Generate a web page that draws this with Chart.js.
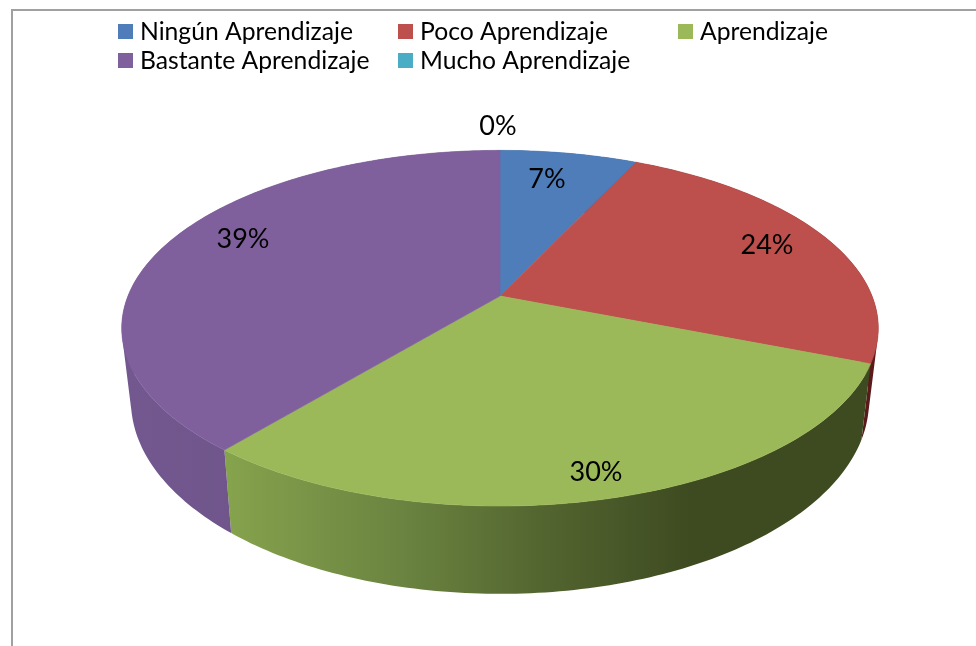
<!DOCTYPE html>
<html>
<head>
<meta charset="utf-8">
<style>
  html, body { margin: 0; padding: 0; background: #fff; overflow: hidden; }
  #wrap { position: relative; width: 976px; height: 646px; }
  #frame { position: absolute; left: 11px; top: 9px; right: 0; bottom: 0; border-left: 2px solid #a0a0a0; border-top: 2px solid #a0a0a0; }
  canvas { position: absolute; left: 0; top: 0; }
</style>
<script src="https://cdn.jsdelivr.net/npm/chart.js@4"></script>
</head>
<body>
<div id="wrap">
  <div id="frame"></div>
  <canvas id="myChart" width="976" height="646"></canvas>
</div>
<script>
const categories = ["Ningún Aprendizaje", "Poco Aprendizaje", "Aprendizaje", "Bastante Aprendizaje", "Mucho Aprendizaje"];
const percents = [7, 24, 30, 39, 0];
const faceColors = ["#4f7dba", "#bd4f4c", "#9bb958", "#7f609c", "#4bacc6"];
const wallColors = [
  [[0, "#2a4a75"], [1, "#2a4a75"]],
  [[0, "#5a1a1a"], [1, "#5a1a1a"]],
  [[0, "#86a34d"], [0.28, "#6a8340"], [0.5, "#52642f"], [0.72, "#3e4b21"], [1, "#3e4b21"]],
  [[0, "#73588f"], [1, "#654f80"]],
  [[0, "#2f7486"], [1, "#2f7486"]],
];

// where Excel put the data labels / legend entries
const labelSpots = [[547, 179], [767, 245], [596, 472], [243, 239], [498, 126]];
const legendSpots = [[118, 32], [398, 32], [678, 32], [118, 61], [398, 61]];
const labelFont = "27px Lato";
const legendFont = "24.7px Lato";

// the pie is tilted with some perspective, so the rim is not centred on the apex
const topDisc = { stretch: 2.163, squash: 1, drop: 0, tilt: -0.181 };
const bottomDisc = { stretch: 2.11, squash: 1.085, drop: 70, tilt: -0.181 };

const project = (arc, angle, disc) => {
  const u = Math.cos(angle);
  const v = Math.sin(angle);
  const d = 1 + disc.tilt * v;
  return [
    arc.x + arc.outerRadius * disc.stretch * u / d,
    arc.y + disc.drop + arc.outerRadius * disc.squash * v / d,
  ];
};

const rimPoints = (arc, disc) => {
  const pts = [];
  const steps = Math.max(2, Math.ceil((arc.endAngle - arc.startAngle) * 60));
  for (let i = 0; i <= steps; i++) {
    pts.push(project(arc, arc.startAngle + (arc.endAngle - arc.startAngle) * i / steps, disc));
  }
  return pts;
};

const addPoly = (ctx, pts) => {
  pts.forEach((p, i) => (i ? ctx.lineTo(p[0], p[1]) : ctx.moveTo(p[0], p[1])));
  ctx.closePath();
};

const signedArea = (pts) =>
  pts.reduce((sum, p, i) => {
    const q = pts[(i + 1) % pts.length];
    return sum + p[0] * q[1] - q[0] * p[1];
  }, 0);

const pie3d = {
  id: "pie3d",
  beforeDatasetsDraw(chart) {
    const ctx = chart.ctx;
    const arcs = chart.getDatasetMeta(0).data;

    ctx.save();
    // walls first, the faces paint over the hidden back part
    arcs.forEach((arc, i) => {
      if (arc.endAngle - arc.startAngle <= 0) return;
      const top = rimPoints(arc, topDisc);
      const bottom = rimPoints(arc, bottomDisc);
      const xs = top.concat(bottom).map((p) => p[0]);
      const grad = ctx.createLinearGradient(Math.min(...xs), 0, Math.max(...xs), 0);
      wallColors[i].forEach((s) => grad.addColorStop(s[0], s[1]));
      ctx.fillStyle = grad;
      // quads in one path, same winding, so no seams and the side silhouette stays
      ctx.beginPath();
      for (let j = 0; j < top.length - 1; j++) {
        const quad = [top[j], top[j + 1], bottom[j + 1], bottom[j]];
        addPoly(ctx, signedArea(quad) < 0 ? quad.reverse() : quad);
      }
      ctx.fill();
    });

    arcs.forEach((arc, i) => {
      if (arc.endAngle - arc.startAngle <= 0) return;
      ctx.fillStyle = faceColors[i];
      ctx.strokeStyle = faceColors[i];
      ctx.lineWidth = 0.6;
      ctx.beginPath();
      addPoly(ctx, [[arc.x, arc.y]].concat(rimPoints(arc, topDisc)));
      ctx.fill();
      ctx.stroke();
    });

    // data labels
    ctx.fillStyle = "#000";
    ctx.font = labelFont;
    ctx.textAlign = "center";
    ctx.textBaseline = "middle";
    percents.forEach((p, i) => ctx.fillText(p + "%", labelSpots[i][0], labelSpots[i][1]));

    // legend
    ctx.font = legendFont;
    ctx.textAlign = "left";
    categories.forEach((name, i) => {
      const [x, y] = legendSpots[i];
      ctx.fillStyle = faceColors[i];
      ctx.fillRect(x, y - 8, 15, 15);
      ctx.fillStyle = "#000";
      ctx.fillText(name, x + 22, y);
    });
    ctx.restore();
    return false;
  },
};

new Chart(document.getElementById("myChart"), {
  type: "pie",
  data: {
    labels: categories,
    datasets: [{ data: percents, backgroundColor: faceColors, borderWidth: 0 }],
  },
  options: {
    responsive: false,
    animation: false,
    layout: { padding: { left: 328, right: 304, top: 124, bottom: 178 } },
    plugins: { legend: { display: false }, tooltip: { enabled: false } },
  },
  plugins: [pie3d],
});
</script>
</body>
</html>
